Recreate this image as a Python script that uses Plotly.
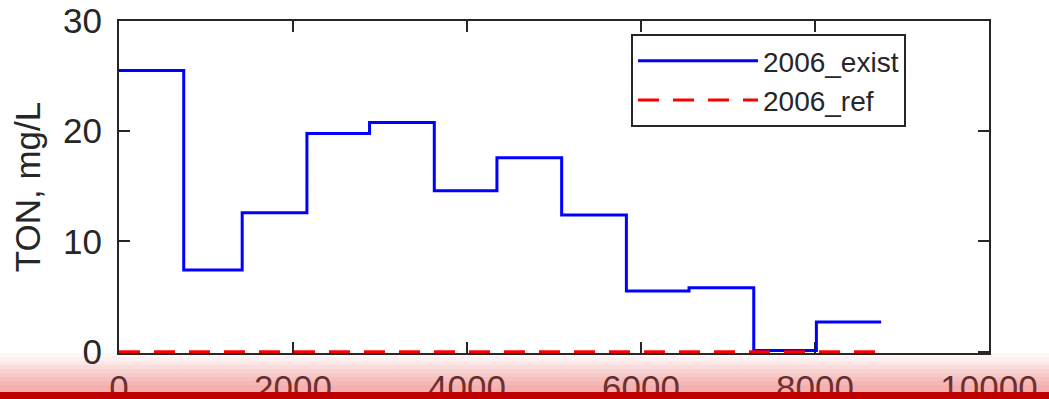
import plotly.graph_objects as go

# ---- data ----
month_edges_hours = [0, 744, 1416, 2160, 2880, 3624, 4344, 5088, 5832, 6552, 7296, 8016, 8760]
exist_2006 = [25.5, 7.4, 12.6, 19.8, 20.8, 14.6, 17.6, 12.4, 5.5, 5.8, 0.1, 2.7]
ref_2006 = [0, 0, 0, 0, 0, 0, 0, 0, 0, 0, 0, 0]
x_ticks = [0, 2000, 4000, 6000, 8000, 10000]
y_ticks = [0, 10, 20, 30]

TXT = "#262626"
FONT = "Liberation Sans, Arial, Helvetica, sans-serif"

fig = go.Figure()
fig.add_trace(go.Scatter(
    x=month_edges_hours, y=exist_2006 + [exist_2006[-1]],
    mode="lines", line=dict(color="#0000ff", width=3, shape="hv"),
    name="2006_exist"))
fig.add_trace(go.Scatter(
    x=month_edges_hours, y=ref_2006 + [ref_2006[-1]],
    mode="lines", line=dict(color="#ff0000", width=3, shape="hv", dash="21px,14px"),
    name="2006_ref"))

W, H = 1049, 399
ML, MR, MT, MB = 119, 60, 21, 46
PW, PH = W - ML - MR, H - MT - MB

def py(p):
    return (H - MB - p) / PH

shapes = []
x0p, x1p = -ML / PW, 1 + MR / PW
strips = [(353, 357, 0.04), (357, 361, 0.08), (361, 365, 0.13), (365, 369, 0.18),
          (369, 373, 0.23), (373, 377, 0.28), (377, 381, 0.33), (381, 385, 0.37),
          (385, 392, 0.41)]
for a, b, al in strips:
    shapes.append(dict(type="rect", xref="paper", yref="paper", x0=x0p, x1=x1p,
                       y0=py(b), y1=py(a), line=dict(width=0),
                       fillcolor=f"rgba(230,60,60,{al})", layer="above"))
shapes.append(dict(type="rect", xref="paper", yref="paper", x0=x0p, x1=x1p,
                   y0=py(399), y1=py(392), line=dict(width=0),
                   fillcolor="#c00000", layer="above"))

axis_common = dict(
    showgrid=False, zeroline=False, showline=True, linecolor=TXT, linewidth=2,
    mirror="ticks", ticks="inside", ticklen=11, tickwidth=1.5, tickcolor=TXT,
    tickfont=dict(family=FONT, size=35, color=TXT), layer="below traces",
    automargin=False,
)

fig.update_layout(
    width=W, height=H,
    margin=dict(l=ML, r=MR, t=MT, b=MB),
    paper_bgcolor="white", plot_bgcolor="white",
    font=dict(family=FONT, color=TXT),
    showlegend=True,
    legend=dict(
        x=(631 - ML) / PW, y=py(34), xanchor="left", yanchor="top",
        bgcolor="white", bordercolor=TXT, borderwidth=2,
        font=dict(family=FONT, size=28, color=TXT),
        itemwidth=120,
    ),
    xaxis=dict(range=[0, 10000], tickvals=x_ticks,
               ticktext=[str(v) for v in x_ticks], ticklabelstandoff=3,
               **axis_common),
    yaxis=dict(range=[-0.12, 30], tickvals=y_ticks,
               ticktext=[str(v) for v in y_ticks], ticklabelstandoff=8,
               title=dict(text="TON, mg/L", font=dict(family=FONT, size=35, color=TXT),
                          standoff=12),
               **axis_common),
    shapes=shapes,
)

fig.write_html("out.html")
